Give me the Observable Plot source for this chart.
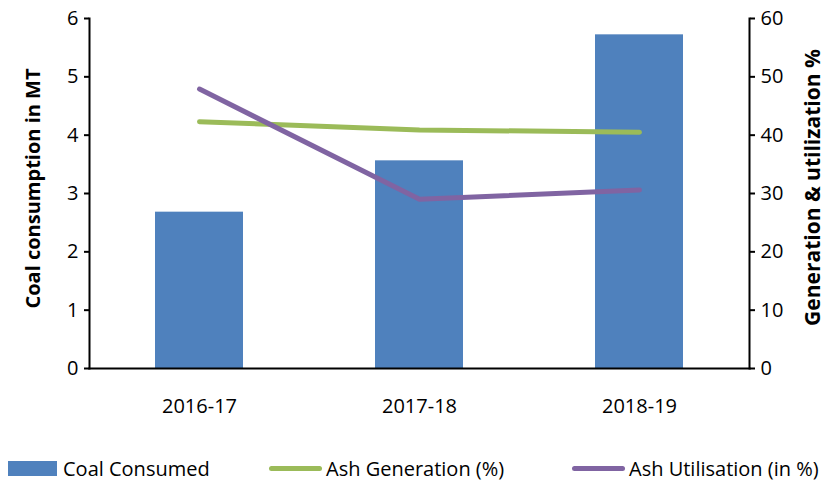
<!DOCTYPE html>
<html>
<head>
<meta charset="utf-8">
<script src="https://cdn.jsdelivr.net/npm/d3@7"></script>
<script src="https://cdn.jsdelivr.net/npm/@observablehq/plot@0.6"></script>
<style>
  html, body { margin: 0; padding: 0; background: #fff; }
  body { width: 829px; height: 480px; overflow: hidden; font-family: "Open Sans", sans-serif; }
  #chart svg { display: block; }
  #legend { position: relative; height: 30px; font-size: 20px; color: #000; }
  .item { position: absolute; top: 3px; height: 30px; display: flex; align-items: center; white-space: nowrap; }
  .sw-bar { width: 49px; height: 15px; margin-right: 6px; }
  .sw-line { width: 53px; height: 5px; border-radius: 3px; margin-right: 4px; }
</style>
</head>
<body>
<div id="chart"></div>
<div id="legend"></div>
<script>
const years = ["2016-17", "2017-18", "2018-19"];
const coalConsumed = [2.68, 3.56, 5.72];
const ashGeneration = [42.3, 40.9, 40.5];
const ashUtilisation = [47.9, 29.0, 30.6];
const leftTicks = [0, 1, 2, 3, 4, 5, 6];
const rightTicks = [0, 10, 20, 30, 40, 50, 60];
const seriesNames = ["Coal Consumed", "Ash Generation (%)", "Ash Utilisation (in %)"];
const colors = ["#4F81BD", "#9BBB59", "#8064A2"];
const ratio = 10; // right axis (%) = left axis (MT) × 10

const bars = years.map((y, i) => ({year: y, value: coalConsumed[i]}));
const gen = years.map((y, i) => ({year: y, value: ashGeneration[i] / ratio}));
const util = years.map((y, i) => ({year: y, value: ashUtilisation[i] / ratio}));

const chart = Plot.plot({
  width: 829,
  height: 450,
  marginLeft: 89,
  marginRight: 80,
  marginTop: 18,
  marginBottom: 82,
  style: {fontFamily: "Open Sans, sans-serif", fontSize: "20px", color: "#000", background: "#fff"},
  x: {domain: years, paddingInner: 0.6, paddingOuter: 0.3, label: null},
  y: {domain: [0, 6], label: null},
  marks: [
    Plot.barY(bars, {x: "year", y: "value", fill: colors[0]}),
    Plot.lineY(gen, {x: "year", y: "value", stroke: colors[1], strokeWidth: 5, strokeLinecap: "round", strokeLinejoin: "round"}),
    Plot.lineY(util, {x: "year", y: "value", stroke: colors[2], strokeWidth: 5, strokeLinecap: "round", strokeLinejoin: "round"}),
    Plot.frame({anchor: "left", stroke: "#000", strokeWidth: 2}),
    Plot.frame({anchor: "right", stroke: "#000", strokeWidth: 2}),
    Plot.frame({anchor: "bottom", stroke: "#000", strokeWidth: 2}),
    Plot.axisY({anchor: "left", ticks: leftTicks, tickSize: 5, tickPadding: 6, tickFormat: d => d, label: null, strokeWidth: 2}),
    Plot.axisY({anchor: "right", ticks: leftTicks, tickSize: 5, tickPadding: 6, tickFormat: (d, i) => rightTicks[i], label: null, strokeWidth: 2}),
    Plot.axisX({anchor: "bottom", tickSize: 0, tickPadding: 30, label: null}),
    Plot.text(["Coal consumption in MT"], {frameAnchor: "left", dx: -56, dy: -5, rotate: -90, textAnchor: "middle", fontWeight: "bold", fontSize: 20, fill: "#000"}),
    Plot.text(["Generation & utilization %"], {frameAnchor: "right", dx: 64, dy: -6, rotate: -90, textAnchor: "middle", fontWeight: "bold", fontSize: 21, fill: "#000"})
  ]
});
document.getElementById("chart").appendChild(chart);

const legend = document.getElementById("legend");
const lefts = [8, 269, 572];
seriesNames.forEach((name, i) => {
  const it = document.createElement("div");
  it.className = "item";
  it.style.left = lefts[i] + "px";
  const sw = document.createElement("span");
  sw.className = i === 0 ? "sw-bar" : "sw-line";
  sw.style.background = colors[i];
  const tx = document.createElement("span");
  tx.textContent = name;
  it.appendChild(sw);
  it.appendChild(tx);
  legend.appendChild(it);
});
</script>
</body>
</html>
